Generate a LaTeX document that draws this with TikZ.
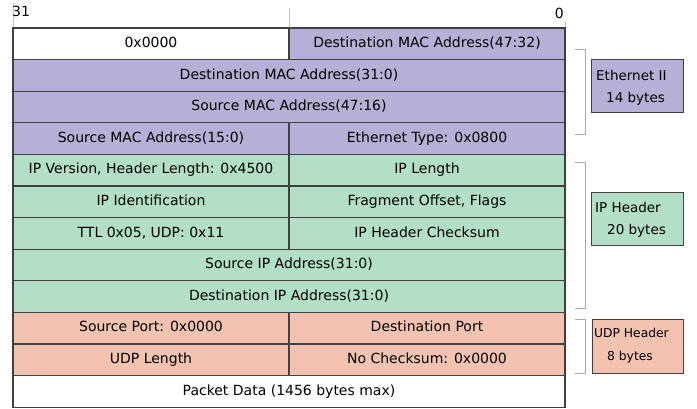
\documentclass[tikz,border=0pt]{standalone}
\usepackage{fontspec}
\setmainfont{DejaVu Sans}
\definecolor{purp}{HTML}{B7AFD5}
\definecolor{grn}{HTML}{B3DEC7}
\definecolor{salm}{HTML}{F3C2B0}
\definecolor{edge}{HTML}{404040}
\definecolor{brk}{HTML}{A8A8A8}
\begin{document}
\begin{tikzpicture}[x=1pt,y=-1pt,
  cell/.style={draw=edge,line width=1.1pt,inner sep=0pt},
  txt/.style={font=\fontsize{14}{16}\selectfont,text height=1.45ex,text depth=0.1ex,inner sep=0pt},
  lbltxt/.style={font=\fontsize{13.5}{22}\selectfont,align=left,anchor=west,inner sep=0pt},
  lbl/.style={draw=edge,line width=0.9pt},
  bracket/.style={draw=brk,line width=0.8pt},
  tick/.style={draw=brk!70,line width=0.6pt}]
\useasboundingbox (0,0) rectangle (697,409);
\def\L{13}\def\M{289}\def\R{565}
% ticks and bit labels
\draw[tick] (\L,3) -- (\L,28);
\draw[tick] (\M,8) -- (\M,28);
\draw[tick] (\R,22) -- (\R,28);
\node[anchor=west,txt] (b31) at (\L-1,13) {31};
\node[anchor=east,txt] (b0) at (\R-1,15) {0};
% rows
\newcommand{\rowfull}[4]{%
  \path[cell,fill=#3] (\L,#1) rectangle (\R,#2);
  \node[txt] at ({(\L+\R)/2},{(#1+#2)/2}) {#4};}
\newcommand{\rowhalf}[5]{%
  \path[cell,fill=#3] (\L,#1) rectangle (\M,#2);
  \path[cell,fill=#3] (\M,#1) rectangle (\R,#2);
  \node[txt] at ({(\L+\M)/2},{(#1+#2)/2}) {#4};
  \node[txt] at ({(\M+\R)/2},{(#1+#2)/2}) {#5};}
\path[cell,fill=white] (\L,28) rectangle (\M,59.6);
\path[cell,fill=purp] (\M,28) rectangle (\R,59.6);
\node[txt] (r1a) at ({(\L+\M)/2},43.8) {0x0000};
\node[txt] (r1b) at ({(\M+\R)/2},43.8) {Destination MAC Address(47:32)};
\rowfull{59.6}{91.2}{purp}{Destination MAC Address(31:0)}
\rowfull{91.2}{122.8}{purp}{Source MAC Address(47:16)}
\rowhalf{122.8}{154.4}{purp}{Source MAC Address(15:0)}{Ethernet Type: 0x0800}
\rowhalf{154.4}{186}{grn}{IP Version, Header Length: 0x4500}{IP Length}
\rowhalf{186}{217.6}{grn}{IP Identification}{Fragment Offset, Flags}
\rowhalf{217.6}{249.2}{grn}{TTL 0x05, UDP: 0x11}{IP Header Checksum}
\rowfull{249.2}{280.8}{grn}{Source IP Address(31:0)}
\rowfull{280.8}{312.4}{grn}{Destination IP Address(31:0)}
\rowhalf{312.4}{344}{salm}{Source Port: 0x0000}{Destination Port}
\rowhalf{344}{375.6}{salm}{UDP Length}{No Checksum: 0x0000}
\rowfull{375.6}{407.2}{white}{Packet Data (1456 bytes max)}
% brackets
\coordinate (e1) at (575,49); \coordinate (e2) at (575,134);
\draw[bracket] (e1) -- (585,49) -- (585,134) -- (e2);
\coordinate (i1) at (575,162); \coordinate (i2) at (575,308);
\draw[bracket] (i1) -- (585,162) -- (585,308) -- (i2);
\coordinate (u1) at (575,319); \coordinate (u2) at (575,373);
\draw[bracket] (u1) -- (585,319) -- (585,373) -- (u2);
% labels
\path[lbl,fill=purp] (591,59) rectangle (683,112);
\node[lbltxt] (eth) at (596,87.5) {Ethernet II\\\hspace*{10pt}14 bytes};
\path[lbl,fill=grn] (591,192) rectangle (683,245);
\node[lbltxt] (iph) at (595,219.5) {IP Header\\\hspace*{12pt}20 bytes};
\path[lbl,fill=salm] (592,319) rectangle (683,373);
\node[lbltxt,font=\fontsize{12.3}{23}\selectfont] (udp) at (594,346) {UDP Header\\\hspace*{13pt}8 bytes};
\end{tikzpicture}
\end{document}
